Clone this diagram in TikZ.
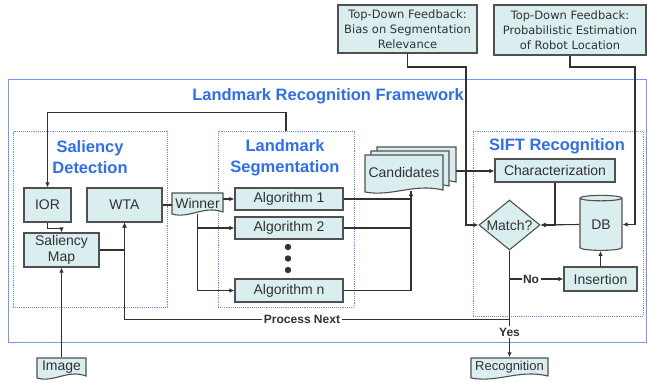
\documentclass[tikz,border=0pt]{standalone}
\usepackage{fontspec}
\setmainfont{Liberation Sans}
\newfontfamily\fbfont{DejaVu Sans}
\usetikzlibrary{shapes.geometric,arrows.meta,calc}
\definecolor{boxfill}{RGB}{218,238,240}
\definecolor{boxline}{RGB}{80,80,80}
\definecolor{titleblue}{RGB}{45,110,245}
\definecolor{frameblue}{RGB}{120,150,250}
\definecolor{dotblue}{RGB}{110,140,235}
\definecolor{ink}{RGB}{50,50,50}
\newcommand\docpath[4]{\filldraw[docshape] ({#1},{#3}) -- ({#2},{#3}) -- ({#2},{#4-2}) .. controls ({#1+0.62*(#2-#1)},{#4-9}) and ({#1+0.35*(#2-#1)},{#4+5}) .. ({#1},{#4}) -- cycle;}
\begin{document}
\begin{tikzpicture}[x=1pt,y=-1pt,
  box/.style={draw=boxline,fill=boxfill,line width=1.1pt,inner sep=0pt,text=ink,font=\fontsize{14}{16}\selectfont,align=center},
  doctext/.style={inner sep=0pt,text=ink,font=\fontsize{14}{16}\selectfont},
  docshape/.style={draw=boxline,fill=boxfill,line width=1.1pt},
  dotframe/.style={draw=dotblue,densely dotted,line width=0.9pt,inner sep=0pt},
  outerframe/.style={draw=frameblue,line width=1pt,inner sep=0pt},
  title/.style={text=titleblue,font=\fontsize{16.5}{21}\selectfont\bfseries,align=center},
  conn/.style={draw=ink,line width=1.1pt},
  arr/.style={conn,-{Latex[length=5pt,width=4.5pt]}},
  lbl/.style={fill=white,inner sep=1.5pt,font=\fontsize{12}{14}\selectfont\bfseries,text=ink},
  lbltext/.style={inner sep=0pt,text=ink,font=\fontsize{14}{16}\selectfont},
  fb/.style={box,font=\fbfont\fontsize{11.5}{15}\selectfont}
]
\useasboundingbox (0,0) rectangle (647,381);
% frames
\node[outerframe,minimum width=638,minimum height=263] (Outer) at (327,210.5) {};
\node[dotframe,minimum width=154,minimum height=176] (SalFrame) at (90,219) {};
\node[dotframe,minimum width=136,minimum height=176] (SegFrame) at (286,219) {};
\node[dotframe,minimum width=170,minimum height=185] (SIFTFrame) at (558,223.5) {};
% titles
\node[title] (TFrame) at (328,96) {Landmark Recognition Framework};
\node[title] (TSal) at (90,157.5) {Saliency\\Detection};
\node[title] (TSeg) at (285,157.5) {Landmark\\Segmentation};
\node[title] (TSIFT) at (557,146) {SIFT Recognition};
% boxes
\node[box,minimum width=47,minimum height=34] (IOR) at (47.5,205) {IOR};
\node[box,minimum width=75,minimum height=34] (WTA) at (124.5,205) {WTA};
\node[box,minimum width=75,minimum height=34] (SalMap) at (61.5,250) {Saliency\\Map};
\node[box,minimum width=108,minimum height=22] (Alg1) at (289,199) {Algorithm 1};
\node[box,minimum width=108,minimum height=22] (Alg2) at (289,228) {Algorithm 2};
\node[box,minimum width=108,minimum height=23] (Algn) at (289,290.5) {Algorithm n};
\fill[ink] (288,247) circle (3.2) (288,258.5) circle (3.2) (288,270) circle (3.2);
\node[box,minimum width=120,minimum height=23] (Char) at (555,170.5) {Characterization};
\node[box,diamond,minimum width=61,minimum height=50,label={[lbltext]center:Match?}] (Match) at (509.5,225) {};
\node[box,cylinder,shape border rotate=90,aspect=0.28,minimum width=42,minimum height=55] (DB) at (601,224.5) {DB};
\node[box,minimum width=73,minimum height=24] (Ins) at (600.5,279) {Insertion};
\node[fb,minimum width=139,minimum height=48] (FB1) at (407.5,29) {Top-Down Feedback:\\Bias on Segmentation\\Relevance};
\node[fb,minimum width=152,minimum height=50] (FB2) at (570,30) {Top-Down Feedback:\\Probabilistic Estimation\\of Robot Location};
% document shapes
\docpath{172}{223}{193}{214}
\node[doctext,minimum width=51,minimum height=21] (Winner) at (197.5,203.5) {Winner};
\docpath{377}{456}{147}{184}
\docpath{371}{449}{151}{188}
\docpath{365}{443}{155}{192}
\node[doctext,minimum width=78,minimum height=37] (Cand) at (404,172) {Candidates};
\docpath{37}{86}{358}{378}
\node[doctext,minimum width=49,minimum height=20] (Image) at (61.5,367.5) {Image};
\docpath{471}{548}{358}{378}
\node[doctext,minimum width=77,minimum height=20,font=\fontsize{13}{15}\selectfont] (Recog) at (509.5,367.5) {Recognition};
% connectors
\coordinate (loopc) at (47.5,112.5);
\draw[arr] (SegFrame.north) |- (loopc) -- (IOR.north);
\draw[arr] (IOR.south) -- ++(0,5.5) -| (SalMap.north);
\draw[arr] (Image.north) -- (SalMap.south);
\draw[arr] (SalMap.east) -| (WTA.south);
\draw[conn] (WTA.east) -- (WTA.east -| Winner.west);
\draw[arr] (Winner.east |- Alg1.west) -- (Alg1.west);
\draw[arr] (Winner.south) |- (Alg2.west);
\draw[arr] (Winner.south) |- (Algn.west);
\coordinate (CandIn) at (411,191);
\draw[conn] (Alg1.east) -| (CandIn);
\draw[conn] (Alg2.east) -| (CandIn);
\draw[arr] (Algn.east) -| (CandIn);
\coordinate (CandOut) at (456,171);
\draw[arr] (CandOut) -- (CandOut -| Char.west);
\draw[arr] (Char.south) |- (Match.east);
\draw[arr] (DB.west) -- (Match.east);
\draw[arr] (Ins.north) -- (Ins.north |- DB.south);
\draw[arr] (Match.south) -- (Recog.north);
\draw[arr] (Match.south |- Ins.west) -- (Ins.west);
\coordinate (PNc) at (509.5,319.5);
\draw[arr] (PNc) -| (WTA.south);
\coordinate (fbA) at (466,67);
\coordinate (fbB) at (635,67);
\draw[arr] (FB1.south) |- (fbA) |- (Match.west);
\draw[arr] (FB2.south) |- (fbB) |- (DB.east);
% labels on lines
\node[lbl] (PN) at (302,319.5) {Process Next};
\node[lbl] (Yes) at (509.5,332) {Yes};
\node[lbl] (No) at (531,279) {No};
\end{tikzpicture}
\end{document}
